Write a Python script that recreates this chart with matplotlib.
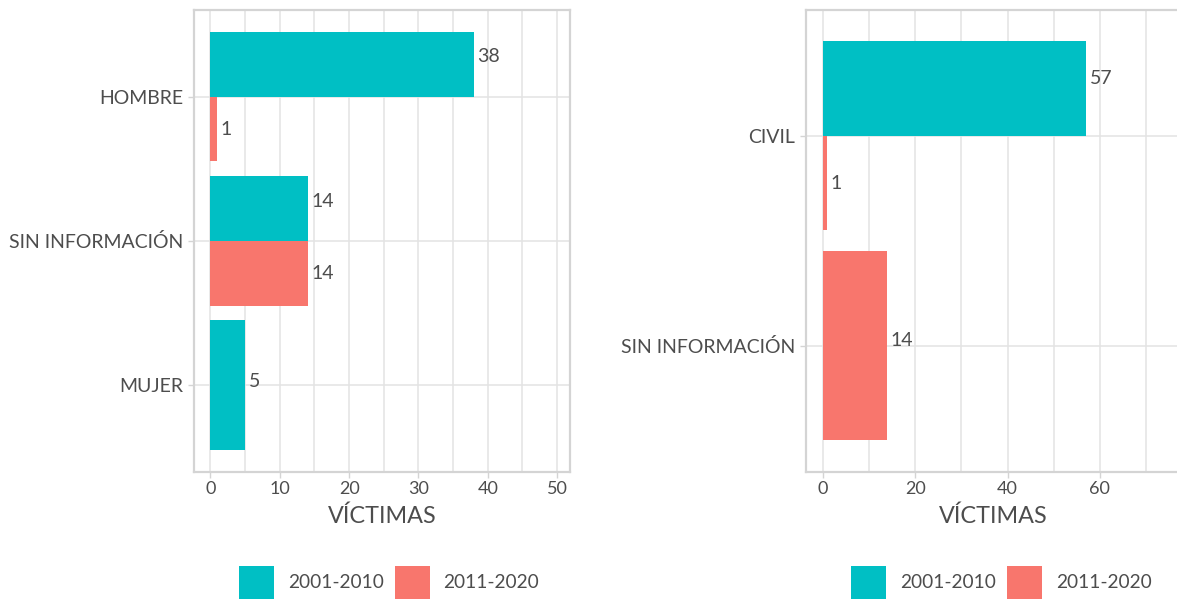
import numpy as np
import matplotlib
matplotlib.use("Agg")
import matplotlib.pyplot as plt
from matplotlib.patches import Rectangle
from matplotlib.ticker import MultipleLocator

# ---------------- data ----------------
series_names = ["2001-2010", "2011-2020"]
series_colors = ["#00BFC4", "#F8766D"]

left_categories = ["MUJER", "SIN INFORMACIÓN", "HOMBRE"]
left_2001_2010 = [5, 14, 38]
left_2011_2020 = [np.nan, 14, 1]

right_categories = ["SIN INFORMACIÓN", "CIVIL"]
right_2001_2010 = [np.nan, 57]
right_2011_2020 = [14, 1]

x_label = "VÍCTIMAS"

# ---------------- style ----------------
W, H = 1177, 599
plt.rcParams['font.family'] = ['Lato', 'DejaVu Sans']
TXT = '#4D4D4D'
GRID = '#E3E3E3'
BORDER = '#D4D4D4'

fig = plt.figure(figsize=(W / 100, H / 100), dpi=100)


def fx(px):
    return px / W


def fy(py):
    return 1 - py / H


def make_panel(rect_px, cats, s1, s2, xlim, major, minor):
    x0, x1, y0, y1 = rect_px
    ax = fig.add_axes([fx(x0), fy(y1), (x1 - x0) / W, (y1 - y0) / H])
    ypos = np.arange(1, len(cats) + 1)
    for yi, a, b in zip(ypos, s1, s2):
        vals = [a, b]
        present = [i for i, v in enumerate(vals) if not np.isnan(v)]
        n = len(present)
        for k, i in enumerate(present):
            v = vals[i]
            if n == 2:
                yc = yi + (0.225 if i == 0 else -0.225)
                h = 0.45
                ty = yi + (0.25 if i == 0 else -0.25) + 0.025
            else:
                yc = yi
                h = 0.9
                ty = yi + 0.025
            ax.barh(yc, v, height=h, color=series_colors[i], zorder=3)
            ax.annotate(f"{int(v)}", xy=(v, ty), xytext=(2.5, 0),
                        textcoords='offset points', ha='left', va='center',
                        fontsize=14, color=TXT, zorder=4)
    ax.set_xlim(*xlim)
    ax.set_ylim(0.4, len(cats) + 0.6)
    ax.set_yticks(ypos)
    ax.set_yticklabels(cats)
    ax.xaxis.set_major_locator(MultipleLocator(major))
    ax.xaxis.set_minor_locator(MultipleLocator(minor))
    ax.grid(True, which='major', color=GRID, lw=1.1, zorder=0)
    ax.grid(True, which='minor', axis='x', color=GRID, lw=1.1, zorder=0)
    ax.set_axisbelow(True)
    for s in ax.spines.values():
        s.set_color(BORDER)
        s.set_linewidth(1.6)
    ax.tick_params(axis='both', which='major', length=4, width=1.0,
                   color=BORDER, labelcolor=TXT)
    ax.tick_params(axis='y', labelsize=14, pad=4)
    ax.tick_params(axis='x', labelsize=13, pad=3)
    ax.tick_params(axis='x', which='minor', length=0)
    ax.set_xlabel(x_label, fontsize=16.8, color=TXT, labelpad=6)
    return ax


def legend(sq_x_list, lab_x_list, yc):
    s = 35
    for i, name in enumerate(series_names):
        sx = sq_x_list[i]
        fig.patches.append(Rectangle((fx(sx), fy(yc + s / 2)), s / W, s / H,
                                     transform=fig.transFigure,
                                     facecolor=series_colors[i], edgecolor='none'))
        fig.text(fx(lab_x_list[i]), fy(yc), name, ha='left', va='center',
                 fontsize=13.8, color=TXT)


make_panel((194, 570.2, 10, 471.7), left_categories, left_2001_2010,
           left_2011_2020, (-2.38, 51.9), 10, 5)
make_panel((806, 1181, 10, 471.7), right_categories, right_2001_2010,
           right_2011_2020, (-3.61, 77.55), 20, 10)

legend([239, 395], [288, 443], 583)
legend([851, 1007], [900, 1056], 583)

fig.savefig("out.png", dpi=100)
